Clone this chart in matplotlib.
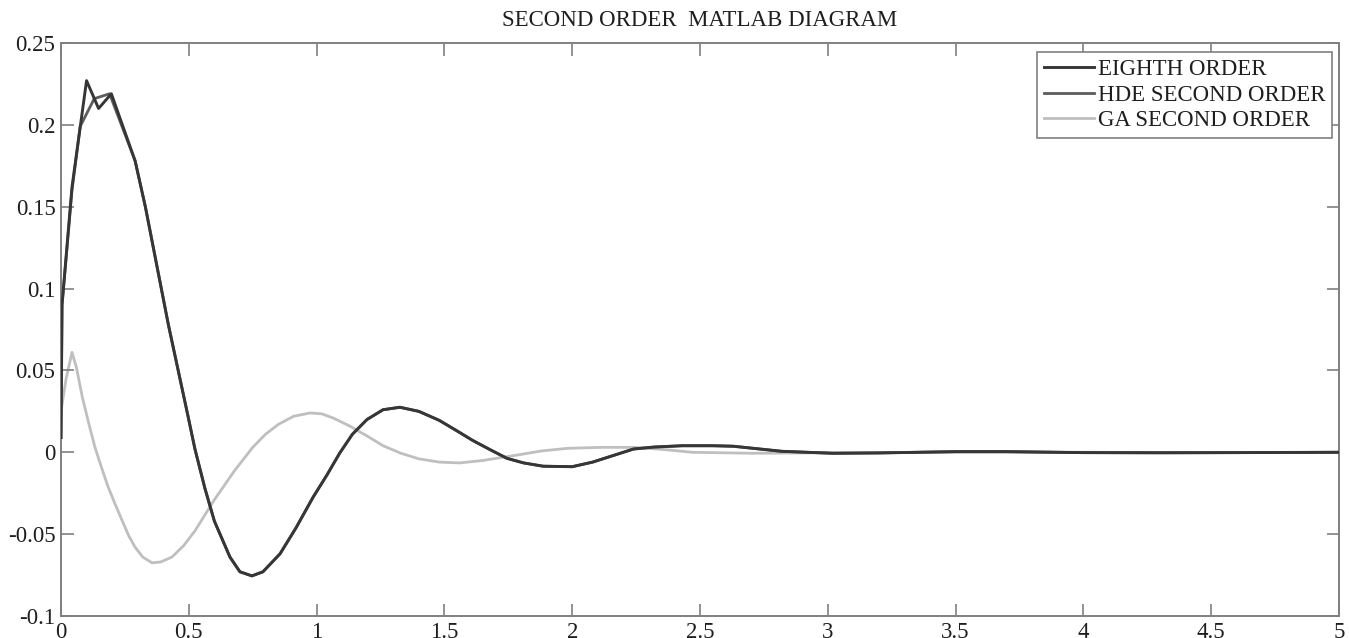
import matplotlib
matplotlib.use('Agg')
import matplotlib.pyplot as plt

# EIGHTH ORDER
t_eighth = [0, 0.004, 0.043, 0.10, 0.147, 0.197, 0.29, 0.33, 0.42, 0.497, 0.524, 0.563, 0.60,
            0.661, 0.70, 0.747, 0.79, 0.857, 0.92, 0.986, 1.04, 1.09, 1.14, 1.197, 1.26, 1.326, 1.40, 1.48,
            1.55, 1.61, 1.68, 1.745, 1.81, 1.886, 2.0, 2.08, 2.16, 2.24, 2.32, 2.43, 2.55, 2.63, 2.82, 3.02,
            3.2, 3.5, 3.7, 4.0, 4.3, 4.6, 5.0]
y_eighth = [0.009, 0.09, 0.162, 0.227, 0.210, 0.219, 0.178, 0.150, 0.078, 0.022, 0.002, -0.022, -0.042,
            -0.064, -0.073, -0.0755, -0.073, -0.062, -0.046, -0.0275, -0.014, -0.0006, 0.011, 0.020, 0.026, 0.0275, 0.025, 0.0195,
            0.013, 0.0073, 0.0015, -0.0037, -0.0065, -0.0085, -0.0088, -0.006, -0.002, 0.002, 0.0032, 0.004, 0.004, 0.0037, 0.0006, -0.0006,
            -0.0004, 0.0004, 0.0004, -0.0002, -0.0003, -0.0002, 0.0]

# HDE SECOND ORDER
t_hde = [0, 0.004, 0.043, 0.075, 0.13, 0.19, 0.29, 0.33, 0.42, 0.497, 0.524, 0.563, 0.60,
         0.661, 0.70, 0.747, 0.79, 0.857, 0.92, 0.986, 1.04, 1.09, 1.14, 1.197, 1.26, 1.326, 1.40, 1.48,
         1.55, 1.61, 1.68, 1.745, 1.81, 1.886, 2.0, 2.08, 2.16, 2.24, 2.32, 2.43, 2.55, 2.63, 2.82, 3.02,
         3.2, 3.5, 3.7, 4.0, 4.3, 4.6, 5.0]
y_hde = [0.009, 0.09, 0.160, 0.199, 0.216, 0.219, 0.178, 0.150, 0.078, 0.022, 0.002, -0.022, -0.042,
         -0.064, -0.073, -0.0755, -0.073, -0.062, -0.046, -0.0275, -0.014, -0.0006, 0.011, 0.020, 0.026, 0.0275, 0.025, 0.0195,
         0.013, 0.0073, 0.0015, -0.0037, -0.0065, -0.0085, -0.0088, -0.006, -0.002, 0.002, 0.0032, 0.004, 0.004, 0.0037, 0.0006, -0.0006,
         -0.0004, 0.0004, 0.0004, -0.0002, -0.0003, -0.0002, 0.0]

# GA SECOND ORDER
t_ga = [0, 0.02, 0.043, 0.06, 0.083, 0.108, 0.133, 0.16, 0.184, 0.21, 0.24, 0.265, 0.29, 0.32, 0.356,
        0.39, 0.434, 0.48, 0.524, 0.56, 0.60, 0.64, 0.68, 0.715, 0.75, 0.80, 0.85, 0.91, 0.974, 1.02,
        1.064, 1.13, 1.197, 1.26, 1.33, 1.40, 1.48, 1.56, 1.65, 1.78, 1.88, 1.98, 2.11, 2.24, 2.35, 2.47,
        2.7, 3.0, 3.5, 4.0, 4.5, 5.0]
y_ga = [0.025, 0.045, 0.061, 0.052, 0.034, 0.018, 0.003, -0.010, -0.021, -0.031, -0.042, -0.051, -0.058, -0.064, -0.0675,
        -0.067, -0.064, -0.057, -0.048, -0.039, -0.029, -0.020, -0.011, -0.004, 0.003, 0.011, 0.017, 0.022, 0.024, 0.0235,
        0.021, 0.016, 0.010, 0.004, -0.0006, -0.004, -0.006, -0.0065, -0.005, -0.0018, 0.0008, 0.0024, 0.003, 0.003, 0.0018, 0.0,
        -0.0006, -0.0003, 0.0, 0.0, -0.0002, 0.0]

labels = ['EIGHTH ORDER', 'HDE SECOND ORDER', 'GA SECOND ORDER']
x_ticks = [0, 0.5, 1, 1.5, 2, 2.5, 3, 3.5, 4, 4.5, 5]
x_ticklabels = ['0', '0.5', '1', '1.5', '2', '2.5', '3', '3.5', '4', '4.5', '5']
y_ticks = [-0.1, -0.05, 0, 0.05, 0.1, 0.15, 0.2, 0.25]
y_ticklabels = ['-0.1', '-0.05', '0', '0.05', '0.1', '0.15', '0.2', '0.25']

plt.rcParams['font.family'] = ['Liberation Serif', 'DejaVu Serif']

W, H = 1349, 638
fig = plt.figure(figsize=(W/100, H/100), dpi=100)
ax = fig.add_axes([61/W, 22/H, 1278/W, 573/H])

l_hde, = ax.plot(t_hde, y_hde, color='#5c5c5c', linewidth=2.0, zorder=2)
l_eighth, = ax.plot(t_eighth, y_eighth, color='#363636', linewidth=2.1, zorder=3)
l_ga, = ax.plot(t_ga, y_ga, color='#bfbfbf', linewidth=2.0, zorder=1)

ax.set_xlim(0, 5)
ax.set_ylim(-0.1, 0.25)
ax.set_xticks(x_ticks)
ax.set_xticklabels(x_ticklabels)
ax.set_yticks(y_ticks)
ax.set_yticklabels(y_ticklabels)
ax.tick_params(direction='in', length=9, width=1.2, color='#808080', labelsize=16.5,
               labelcolor='#1e1e1e', top=True, right=True, pad=4)
for s in ax.spines.values():
    s.set_color('#808080')
    s.set_linewidth(1.4)

ax.set_title('SECOND ORDER  MATLAB DIAGRAM', fontsize=16.5, color='#1e1e1e', pad=12)

leg = ax.legend([l_eighth, l_hde, l_ga], labels, loc='upper right',
                bbox_to_anchor=(1332/W, 1 - 52/H), bbox_transform=fig.transFigure,
                borderaxespad=0, fontsize=16.5, handlelength=2.2, handletextpad=0.15,
                labelspacing=0.2, borderpad=0.3, fancybox=False, framealpha=1)
leg.get_frame().set_edgecolor('#808080')
leg.get_frame().set_linewidth(1.2)
for t in leg.get_texts():
    t.set_color('#1e1e1e')

fig.savefig('out.png', dpi=100)
